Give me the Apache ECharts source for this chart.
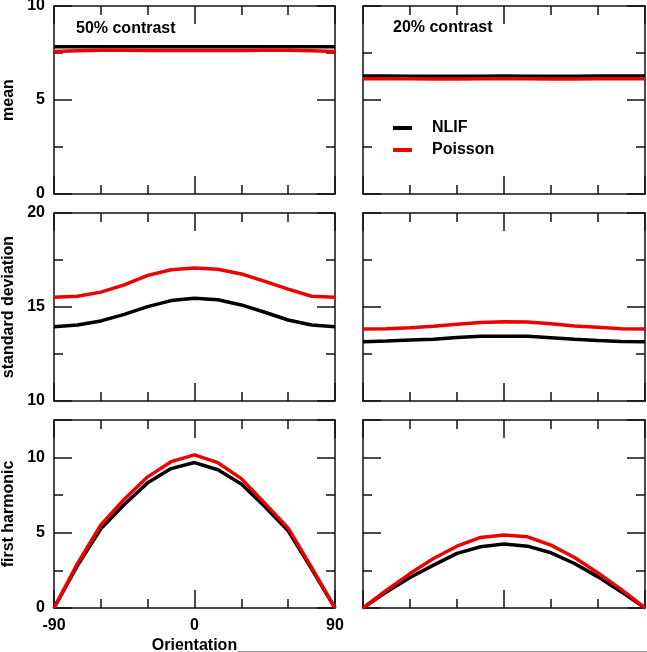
<!DOCTYPE html>
<html>
<head>
<meta charset="utf-8">
<script src="https://cdn.jsdelivr.net/npm/echarts@6/dist/echarts.min.js"></script>
<style>
html,body{margin:0;padding:0;background:#fff;}
#c{width:647px;height:652px;}
</style>
</head>
<body>
<div id="c"></div>
<script>
// ---- data ----
const angles = [-90, -75, -60, -45, -30, -15, 0, 15, 30, 45, 60, 75, 90];
const xTickLabels = [-90, 0, 90];

const mean50NLIF    = [7.83, 7.83, 7.83, 7.83, 7.83, 7.83, 7.83, 7.83, 7.83, 7.83, 7.83, 7.83, 7.83];
const mean50Poisson = [7.58, 7.62, 7.65, 7.64, 7.63, 7.63, 7.63, 7.63, 7.63, 7.64, 7.65, 7.62, 7.58];
const mean20NLIF    = [6.27, 6.27, 6.26, 6.26, 6.26, 6.26, 6.27, 6.26, 6.26, 6.26, 6.27, 6.27, 6.27];
const mean20Poisson = [6.13, 6.13, 6.13, 6.12, 6.12, 6.13, 6.13, 6.13, 6.12, 6.12, 6.13, 6.13, 6.13];

const sd50NLIF      = [13.95, 14.04, 14.26, 14.61, 15.02, 15.34, 15.47, 15.39, 15.11, 14.72, 14.31, 14.04, 13.95];
const sd50Poisson   = [15.52, 15.57, 15.79, 16.18, 16.68, 16.98, 17.07, 17.01, 16.76, 16.36, 15.95, 15.57, 15.52];
const sd20NLIF      = [13.15, 13.19, 13.24, 13.29, 13.38, 13.44, 13.45, 13.44, 13.37, 13.28, 13.22, 13.17, 13.15];
const sd20Poisson   = [13.83, 13.84, 13.90, 13.97, 14.08, 14.18, 14.22, 14.20, 14.11, 13.99, 13.92, 13.84, 13.83];

const fh50NLIF      = [0, 2.82, 5.26, 6.88, 8.32, 9.27, 9.67, 9.19, 8.24, 6.75, 5.13, 2.60, 0];
const fh50Poisson   = [0, 2.95, 5.52, 7.23, 8.72, 9.73, 10.18, 9.66, 8.60, 6.97, 5.31, 2.70, 0];
const fh20NLIF      = [0, 1.07, 2.03, 2.85, 3.63, 4.07, 4.25, 4.11, 3.67, 2.96, 2.07, 1.07, 0];
const fh20Poisson   = [0, 1.18, 2.29, 3.29, 4.11, 4.69, 4.85, 4.73, 4.18, 3.36, 2.33, 1.22, 0];

const seriesNames = ['NLIF', 'Poisson'];
const panelTitles = ['50% contrast', '20% contrast'];
const rowNames = ['mean', 'standard deviation', 'first harmonic'];
const xName = 'Orientation';

// ---- layout / style ----
const FONT = "'Liberation Sans', Arial, Helvetica, sans-serif";
const INK = '#111';
const COLORS = ['#000000', '#ee0000'];

const panels = [
  {left: 54,  top: 6,   width: 281, height: 188, ymin: 0,  ymax: 10,   d: [mean50NLIF, mean50Poisson], yName: rowNames[0], labY: true,  labX: false},
  {left: 363, top: 6,   width: 282, height: 188, ymin: 0,  ymax: 10,   d: [mean20NLIF, mean20Poisson], yName: null,        labY: false, labX: false},
  {left: 54,  top: 213, width: 281, height: 188, ymin: 10, ymax: 20,   d: [sd50NLIF, sd50Poisson],     yName: rowNames[1], labY: true,  labX: false},
  {left: 363, top: 213, width: 282, height: 188, ymin: 10, ymax: 20,   d: [sd20NLIF, sd20Poisson],     yName: null,        labY: false, labX: false},
  {left: 54,  top: 420, width: 281, height: 188, ymin: 0,  ymax: 12.5, d: [fh50NLIF, fh50Poisson],     yName: rowNames[2], labY: true,  labX: true},
  {left: 363, top: 420, width: 282, height: 188, ymin: 0,  ymax: 12.5, d: [fh20NLIF, fh20Poisson],     yName: null,        labY: false, labX: false}
];

const txt = {fontFamily: FONT, fontSize: 16, fontWeight: 'bold', color: '#000'};
const lineSt = {color: INK, width: 1.5};

const grid = [], xAxis = [], yAxis = [], series = [];

panels.forEach((p, g) => {
  grid.push({left: p.left, top: p.top, width: p.width, height: p.height,
             containLabel: false, outerBoundsMode: 'none'});

  ['bottom', 'top'].forEach(pos => {
    xAxis.push({type: 'value', gridIndex: g, position: pos, min: -90, max: 90, interval: 30,
      splitLine: {show: false},
      axisLine: {show: true, onZero: false, lineStyle: lineSt},
      axisTick: {show: true, inside: true, length: 9, lineStyle: lineSt},
      axisLabel: {show: false}});
    const major = {type: 'value', gridIndex: g, position: pos, min: -90, max: 90, interval: 90,
      splitLine: {show: false},
      axisLine: {show: false, onZero: false},
      axisTick: {show: true, inside: true, length: 18, lineStyle: lineSt},
      axisLabel: {show: false}};
    if (pos === 'bottom' && p.labX) {
      major.axisLabel = Object.assign({show: true, margin: 10,
        formatter: v => (xTickLabels.indexOf(v) >= 0 ? String(v) : '')}, txt);
      major.name = xName;
      major.nameLocation = 'middle';
      major.nameGap = 30;
      major.nameTextStyle = Object.assign({}, txt);
    }
    xAxis.push(major);
  });

  ['left', 'right'].forEach(pos => {
    yAxis.push({type: 'value', gridIndex: g, position: pos, min: p.ymin, max: p.ymax, interval: 2.5,
      splitLine: {show: false},
      axisLine: {show: true, onZero: false, lineStyle: lineSt},
      axisTick: {show: true, inside: true, length: 9, lineStyle: lineSt},
      axisLabel: {show: false}});
    const major = {type: 'value', gridIndex: g, position: pos, min: p.ymin, max: p.ymax, interval: 5,
      splitLine: {show: false},
      axisLine: {show: false, onZero: false},
      axisTick: {show: true, inside: true, length: 18, lineStyle: lineSt},
      axisLabel: {show: false}};
    if (pos === 'left' && p.labY) {
      major.axisLabel = Object.assign({show: true, margin: 9,
        formatter: v => (v % 5 === 0 ? String(v) : '')}, txt);
      major.name = p.yName;
      major.nameLocation = 'middle';
      major.nameGap = 37;
      major.nameTextStyle = Object.assign({}, txt);
    }
    yAxis.push(major);
  });

  p.d.forEach((vals, k) => {
    series.push({
      type: 'line', name: seriesNames[k],
      xAxisIndex: 4 * g, yAxisIndex: 4 * g,
      data: angles.map((a, i) => [a, vals[i]]),
      showSymbol: false, symbol: 'none', smooth: false,
      lineStyle: {color: COLORS[k], width: 3.5},
      itemStyle: {color: COLORS[k]},
      z: 3 + k, animation: false, silent: true
    });
  });
});

const option = {
  backgroundColor: '#fff',
  animation: false,
  title: [
    {text: panelTitles[0], left: 76, top: 21, padding: 0, textStyle: Object.assign({}, txt)},
    {text: panelTitles[1], left: 393, top: 20, padding: 0, textStyle: Object.assign({}, txt)}
  ],
  legend: {
    orient: 'vertical', left: 393, top: 120, padding: 0,
    itemWidth: 19, itemHeight: 4, itemGap: 6, icon: 'rect',
    data: seriesNames, selectedMode: false,
    textStyle: Object.assign({lineHeight: 16, padding: [0, 0, 0, 15]}, txt)
  },
  grid, xAxis, yAxis, series,
  graphic: [
    {type: 'line', shape: {x1: 238, y1: 651.5, x2: 647, y2: 651.5},
     style: {stroke: '#999', lineWidth: 1}, silent: true}
  ]
};

const chart = echarts.init(document.getElementById('c'), null, {renderer: 'canvas'});
chart.setOption(option);
</script>
</body>
</html>
